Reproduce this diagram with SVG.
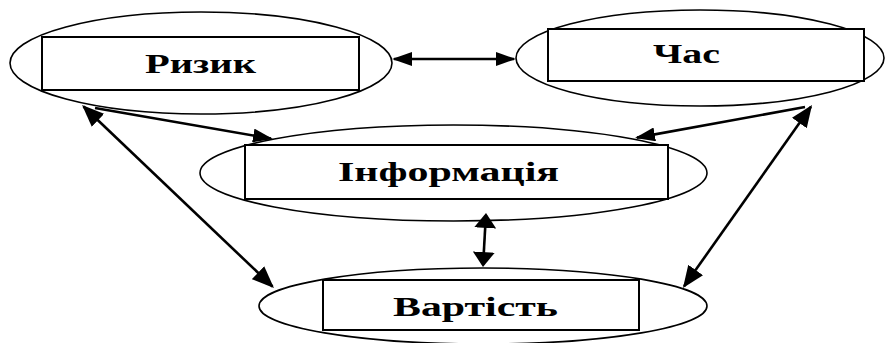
<svg xmlns="http://www.w3.org/2000/svg" width="888" height="343" viewBox="0 0 888 343">
<style>
.ell{fill:#fff;stroke:#000;stroke-width:1.6}
.box{fill:#fff;stroke:#000;stroke-width:2}
.lbl{font-family:"Liberation Serif","Times New Roman",serif;font-weight:bold;font-size:28px;fill:#000}
.con{stroke:#000;stroke-width:2.6;fill:none}
</style>
<defs>
<marker id="ah" markerUnits="userSpaceOnUse" markerWidth="20" markerHeight="14" refX="18" refY="7" orient="auto-start-reverse">
<path d="M0,0 L20,7 L0,14 z" fill="#000"/>
</marker>
<marker id="ab" markerUnits="userSpaceOnUse" markerWidth="22" markerHeight="18" refX="20" refY="9" orient="auto-start-reverse">
<path d="M0,0 L22,9 L0,18 z" fill="#000"/>
</marker>
<marker id="aw" markerUnits="userSpaceOnUse" markerWidth="15" markerHeight="22" refX="13" refY="11" orient="auto-start-reverse">
<path d="M0,0 L15,11 L0,22 z" fill="#000"/>
</marker>
</defs>
<g id="node-rizyk">
<ellipse class="ell" cx="201" cy="63" rx="191" ry="51"/>
<rect class="box" x="42" y="37" width="317" height="53"/>
<text class="lbl" x="145" y="73" textLength="111" lengthAdjust="spacingAndGlyphs">Ризик</text>
</g>
<g id="node-chas">
<ellipse class="ell" cx="700" cy="58" rx="184" ry="48"/>
<rect class="box" x="548" y="29" width="316" height="52"/>
<text class="lbl" x="653" y="63" textLength="67" lengthAdjust="spacingAndGlyphs">Час</text>
</g>
<g id="node-informatsiya">
<ellipse class="ell" cx="453.5" cy="173" rx="253.5" ry="48"/>
<rect class="box" x="245" y="145" width="423" height="54"/>
<text class="lbl" x="338" y="181" textLength="221" lengthAdjust="spacingAndGlyphs">Інформація</text>
</g>
<g id="node-vartist">
<ellipse class="ell" cx="483" cy="306" rx="224" ry="38"/>
<rect class="box" x="323" y="280" width="316" height="50"/>
<text class="lbl" x="393" y="316" textLength="165" lengthAdjust="spacingAndGlyphs">Вартість</text>
</g>
<g id="connectors">
<line class="con" x1="394" y1="59" x2="514" y2="59" marker-start="url(#ah)" marker-end="url(#ah)"/>
<line class="con" x1="83.5" y1="106.5" x2="272.5" y2="286.5" marker-start="url(#ab)" marker-end="url(#ab)"/>
<line class="con" x1="95" y1="108" x2="271" y2="138.6" marker-end="url(#ah)"/>
<line class="con" x1="805" y1="107" x2="637" y2="137.6" marker-end="url(#ah)"/>
<line class="con" x1="810.9" y1="106.7" x2="684.1" y2="286.3" marker-start="url(#ab)" marker-end="url(#ab)"/>
<line class="con" x1="485.9" y1="215" x2="483.1" y2="265" marker-start="url(#aw)" marker-end="url(#aw)"/>
</g>
</svg>
